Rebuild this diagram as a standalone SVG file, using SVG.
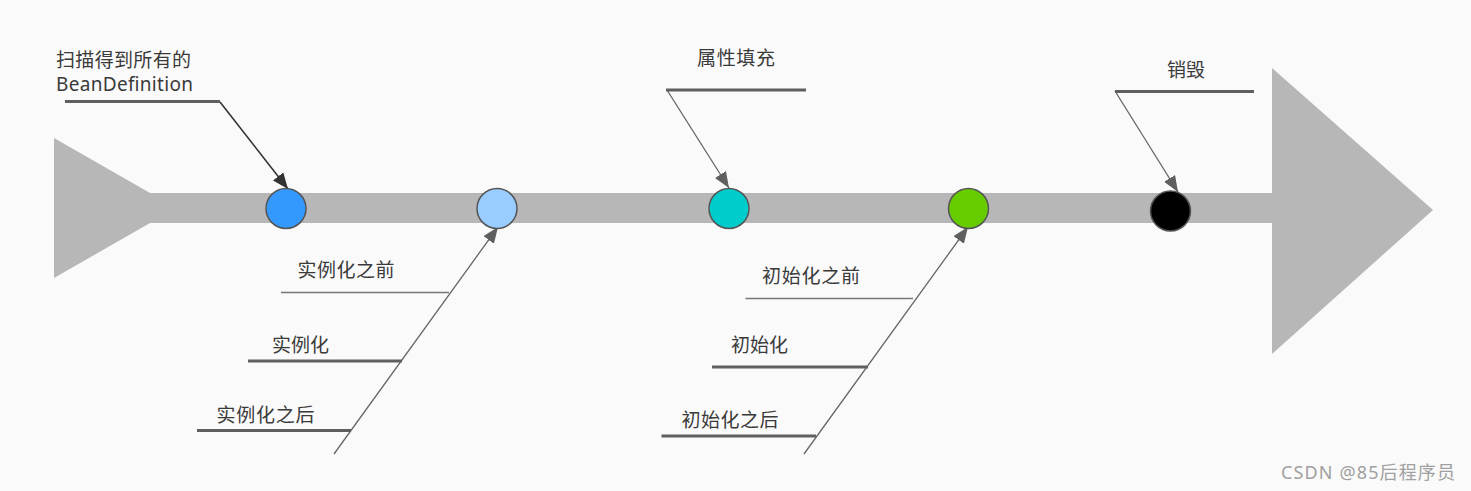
<svg xmlns="http://www.w3.org/2000/svg" width="1471" height="491" viewBox="0 0 1471 491">
<style>
.t{font-family:"Noto Sans","Noto Sans CJK SC",sans-serif;font-size:19px;fill:#3a3a3a}
.c{font-family:"Noto Sans","Noto Sans CJK SC",sans-serif;font-size:18px;fill:#a0a0a0}
.ul{stroke:#5f5f5f;stroke-width:3;fill:none}
.ut{stroke:#777;stroke-width:1.5;fill:none}
.ar{stroke:#666;stroke-width:1.3;fill:none;marker-end:url(#ah)}
.ard{stroke:#333;stroke-width:1.6;fill:none;marker-end:url(#ahd)}
.n{stroke:#555;stroke-width:1.5}
</style>
<defs>
<marker id="ah" markerUnits="userSpaceOnUse" markerWidth="17" markerHeight="14" refX="16" refY="6.5" orient="auto"><path d="M0,0 L16,6.5 L0,13 z" fill="#5f5f5f"/></marker>
<marker id="ahd" markerUnits="userSpaceOnUse" markerWidth="17" markerHeight="14" refX="16" refY="6.5" orient="auto"><path d="M0,0 L16,6.5 L0,13 z" fill="#333"/></marker>
</defs>
<rect x="0" y="0" width="1471" height="491" fill="#fafafa"/>
<g id="spine">
<polygon points="54,138 150,193 150,223 54,278" fill="#b7b7b7"/>
<rect x="148" y="193" width="1126" height="30" fill="#b7b7b7"/>
<polygon points="1272,68 1433,210 1272,354" fill="#b7b7b7"/>
</g>
<g id="connectors">
<path class="ard" d="M220,102 L288,189"/>
<path class="ar" d="M667,90 L729,188"/>
<path class="ar" d="M1115,91 L1178,192"/>
<path class="ar" d="M334,454 L498,227"/>
<path class="ar" d="M804,454 L968,227"/>
</g>
<g id="label-scan">
<text class="t" x="56" y="66.5" textLength="135">扫描得到所有的</text>
<text class="t" x="56" y="91" textLength="137">BeanDefinition</text>
<line class="ul" x1="65" y1="101.5" x2="220" y2="101.5"/>
</g>
<g id="label-populate">
<text class="t" x="697" y="65" textLength="78">属性填充</text>
<line class="ul" x1="666" y1="90" x2="806" y2="90"/>
</g>
<g id="label-destroy">
<text class="t" x="1167" y="77">销毁</text>
<line class="ul" x1="1115" y1="91.5" x2="1254" y2="91.5"/>
</g>
<g id="label-before-inst">
<text class="t" x="297.5" y="277" textLength="97">实例化之前</text>
<line class="ut" x1="281" y1="292.5" x2="449" y2="292.5"/>
</g>
<g id="label-inst">
<text class="t" x="272" y="352">实例化</text>
<line class="ul" x1="248" y1="361" x2="402" y2="361"/>
</g>
<g id="label-after-inst">
<text class="t" x="216.5" y="421.5" textLength="98">实例化之后</text>
<line class="ul" x1="197" y1="430.5" x2="351" y2="430.5"/>
</g>
<g id="label-before-init">
<text class="t" x="762" y="283" textLength="98">初始化之前</text>
<line class="ut" x1="745.5" y1="298.5" x2="913" y2="298.5"/>
</g>
<g id="label-init">
<text class="t" x="731" y="352">初始化</text>
<line class="ul" x1="712" y1="367" x2="868" y2="367"/>
</g>
<g id="label-after-init">
<text class="t" x="681.5" y="427" textLength="97">初始化之后</text>
<line class="ul" x1="661.5" y1="436" x2="816" y2="436"/>
</g>
<g id="node-scan"><circle class="n" cx="286" cy="208.5" r="20" fill="#3399ff"/></g>
<g id="node-instantiate"><circle class="n" cx="497" cy="208.5" r="20" fill="#99ccff"/></g>
<g id="node-populate"><circle class="n" cx="729" cy="208.5" r="20" fill="#00cccc"/></g>
<g id="node-initialize"><circle class="n" cx="968.5" cy="208.5" r="20" fill="#66cc00"/></g>
<g id="node-destroy"><circle class="n" cx="1170.5" cy="211" r="20" fill="#000"/></g>
<text class="c" x="1281" y="478.5" textLength="174">CSDN @85后程序员</text>
</svg>
